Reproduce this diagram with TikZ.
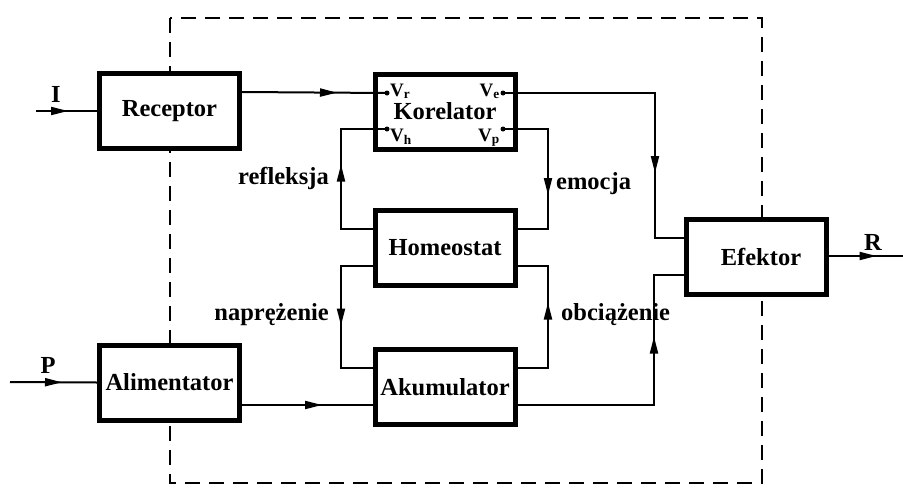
\documentclass[tikz,border=0pt]{standalone}
\usepackage{fontspec}
\setmainfont{Liberation Serif}
\usetikzlibrary{arrows.meta,decorations.markings}
\tikzset{
 blk/.style={draw,line width=5pt,fill=white,minimum width=140pt,minimum height=75pt,inner sep=0pt,font=\fontsize{24.5}{24.5}\selectfont\bfseries},
 conn/.style={line width=2pt},
 arrowat/.style={postaction={decorate},decoration={markings,mark=at position #1 with {\arrow{Triangle[length=17pt,width=8pt]}}}},
 lbl/.style={font=\fontsize{24.5}{24.5}\selectfont\bfseries,inner sep=0pt},
 dotc/.style={circle,fill,inner sep=0pt,minimum size=5pt},
 vlbl/.style={font=\fontsize{19}{19}\selectfont\bfseries,inner sep=0pt},
 frame/.style={line width=2.5pt,dash pattern=on 15pt off 9pt},
}
\begin{document}
\begin{tikzpicture}[x=1pt,y=-1pt]
\useasboundingbox (0,0) rectangle (903,493);
\draw[frame] (170,18) rectangle (762,483);
% blocks
\node[blk] (rec) at (169.5,111) {Receptor};
\node[blk] (ali) at (169.5,382.5) {Alimentator};
\node[blk] (kor) at (445,111.5) {\raisebox{-2pt}{Korelator}};
\node[blk] (hom) at (445,247.5) {Homeostat};
\node[blk] (aku) at (445,387) {Akumulator};
\node[blk] (efe) at (756,257) {\hspace*{10pt}Efektor};
% helper coordinates
\coordinate (inI) at (36,111);
\coordinate (inP) at (10,382);
\coordinate (outR) at (903,256);
\coordinate (yA) at (0,92);
\coordinate (yB) at (0,405);
\coordinate (yH1) at (0,229);
\coordinate (yH2) at (0,266);
\coordinate (yK1) at (0,368);
\coordinate (yE1) at (0,238);
\coordinate (yE2) at (0,275);
\coordinate (yR) at (0,256);
% ports
\node[dotc] (vr) at (387,93) {};
\node[dotc] (ve) at (503,93) {};
\node[dotc] (vh) at (387,129) {};
\node[dotc] (vp) at (503,129) {};
\node[vlbl,anchor=base west] at (390,96) {V\textsubscript{r}};
\node[vlbl,anchor=base east] at (500,96) {V\textsubscript{e}};
\node[vlbl,anchor=base west] at (390,141) {V\textsubscript{h}};
\node[vlbl,anchor=base east] at (500,141) {V\textsubscript{p}};
% connectors
\draw[conn,arrowat=32pt] (inI) -- (rec.west);
\draw[conn,arrowat=52pt] (inP) -- (ali.west);
\draw[conn,arrowat=48pt] (efe.east |- yR) -- (outR);
\draw[conn,arrowat=95pt] (rec.east |- yA) -- (vr.center);
\draw[conn,arrowat=80pt] (ali.east |- yB) -- (aku.west |- yB);
\draw[conn,arrowat=232pt] (ve.center) -- (655,93) -- (655,238) -- (efe.west |- yE1);
\draw[conn,arrowat=111pt] (vp.center) -- (548,129) -- (548,229) -- (hom.east |- yH1);
\draw[conn,arrowat=96pt] (hom.west |- yH1) -- (341,229) -- (341,129) -- (vh.center);
\draw[conn,arrowat=91pt] (hom.west |- yH2) -- (341,266) -- (341,368) -- (aku.west |- yK1);
\draw[conn,arrowat=96pt] (aku.east |- yK1) -- (548,368) -- (548,266) -- (hom.east |- yH2);
\draw[conn,arrowat=205pt] (aku.east |- yB) -- (654,405) -- (654,275) -- (efe.west |- yE2);
% labels
\node[lbl] (lI) at (56,94) {I};
\node[lbl] (lP) at (48,365) {P};
\node[lbl] (lR) at (873,242) {R};
\node[lbl,anchor=east] (lref) at (329,178) {refleksja};
\node[lbl,anchor=west] (lemo) at (556,184) {emocja};
\node[lbl,anchor=east] (lnap) at (329,315) {naprężenie};
\node[lbl,anchor=west] (lobc) at (561,315) {obciążenie};
\end{tikzpicture}
\end{document}
